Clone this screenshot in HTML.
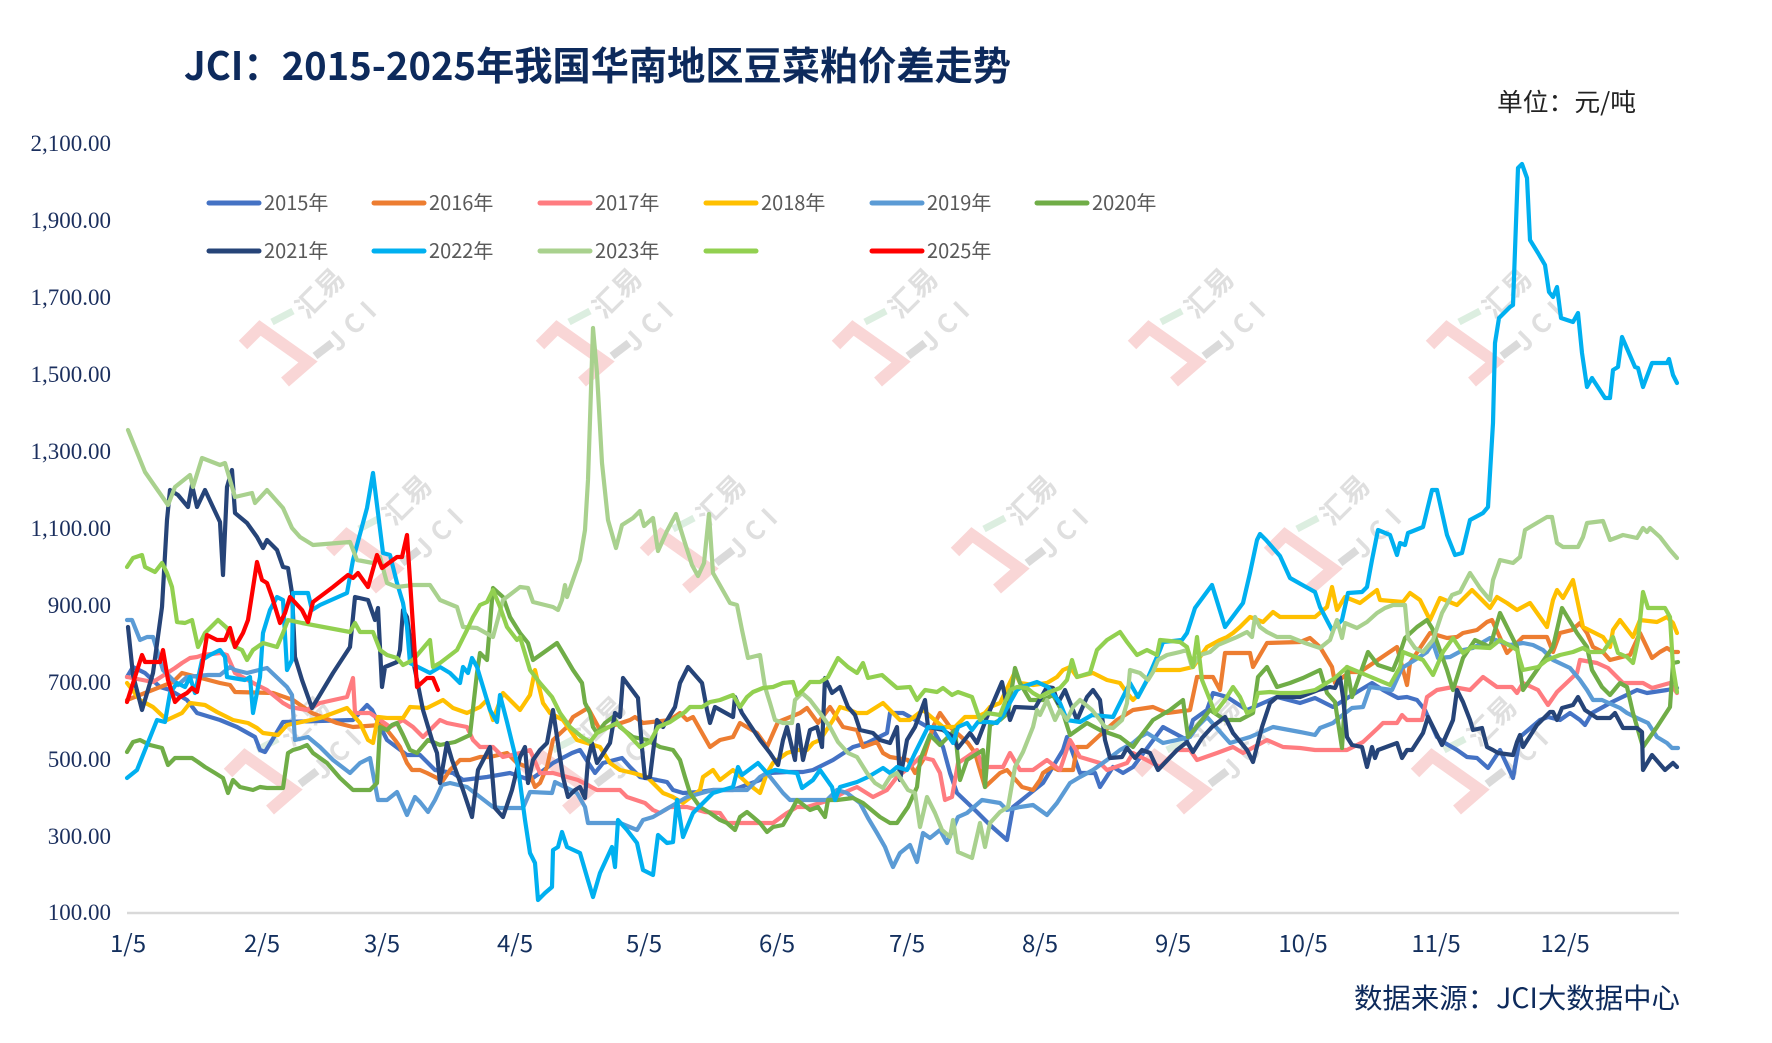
<!DOCTYPE html>
<html><head><meta charset="utf-8"><style>
html,body{margin:0;padding:0;background:#fff;}
svg{display:block;}
.yl{font-family:"Liberation Serif","Noto Serif CJK SC",serif;font-size:23px;fill:#1b2f5e;}
.xl{font-family:"Noto Sans CJK SC","Liberation Sans",sans-serif;font-size:24px;fill:#14305e;}
.lg{font-family:"Noto Sans CJK SC","Liberation Sans",sans-serif;font-size:20px;fill:#595959;}
.s{fill:none;stroke-width:4.2;stroke-linejoin:round;stroke-linecap:round;}
.wt{font-family:"Noto Sans CJK SC","Liberation Sans",sans-serif;fill:#dcdcdc;font-weight:bold;}
</style></head><body>
<svg width="1772" height="1043" viewBox="0 0 1772 1043" xmlns="http://www.w3.org/2000/svg">
<rect width="1772" height="1043" fill="#fff"/>
<!-- title -->
<text x="184" y="80" textLength="827" lengthAdjust="spacingAndGlyphs" style="font-family:'Noto Sans CJK SC','Liberation Sans',sans-serif;font-weight:bold;font-size:39px;fill:#0d2a5c;">JCI：2015-2025年我国华南地区豆菜粕价差走势</text>
<text x="1636" y="111" text-anchor="end" textLength="139" lengthAdjust="spacingAndGlyphs" style="font-family:'Noto Sans CJK SC','Liberation Sans',sans-serif;font-size:25px;fill:#222;">单位：元/吨</text>
<text x="1680" y="1008" text-anchor="end" textLength="326" lengthAdjust="spacingAndGlyphs" style="font-family:'Noto Sans CJK SC','Liberation Sans',sans-serif;font-size:28px;fill:#0d2a5c;">数据来源：JCI大数据中心</text>

<!-- watermarks -->
<g opacity="0.9">
<g transform="translate(243,345)"><polyline points="0,0 17,-17 65,17 42,37" fill="none" stroke="#f9d2d2" stroke-width="12"/><line x1="29" y1="-23" x2="50" y2="-34" stroke="#d8ecdd" stroke-width="7"/><line x1="72" y1="11" x2="89" y2="-2" stroke="#d6d6d6" stroke-width="8"/><text class="wt" x="0" y="0" font-size="28" text-anchor="middle" transform="translate(84,-45) rotate(-45)">汇易</text><text class="wt" x="0" y="0" font-size="26" letter-spacing="8" text-anchor="middle" transform="translate(118,-15) rotate(-45)">JCI</text></g>
<g transform="translate(540,345)"><polyline points="0,0 17,-17 65,17 42,37" fill="none" stroke="#f9d2d2" stroke-width="12"/><line x1="29" y1="-23" x2="50" y2="-34" stroke="#d8ecdd" stroke-width="7"/><line x1="72" y1="11" x2="89" y2="-2" stroke="#d6d6d6" stroke-width="8"/><text class="wt" x="0" y="0" font-size="28" text-anchor="middle" transform="translate(84,-45) rotate(-45)">汇易</text><text class="wt" x="0" y="0" font-size="26" letter-spacing="8" text-anchor="middle" transform="translate(118,-15) rotate(-45)">JCI</text></g>
<g transform="translate(836,345)"><polyline points="0,0 17,-17 65,17 42,37" fill="none" stroke="#f9d2d2" stroke-width="12"/><line x1="29" y1="-23" x2="50" y2="-34" stroke="#d8ecdd" stroke-width="7"/><line x1="72" y1="11" x2="89" y2="-2" stroke="#d6d6d6" stroke-width="8"/><text class="wt" x="0" y="0" font-size="28" text-anchor="middle" transform="translate(84,-45) rotate(-45)">汇易</text><text class="wt" x="0" y="0" font-size="26" letter-spacing="8" text-anchor="middle" transform="translate(118,-15) rotate(-45)">JCI</text></g>
<g transform="translate(1132,345)"><polyline points="0,0 17,-17 65,17 42,37" fill="none" stroke="#f9d2d2" stroke-width="12"/><line x1="29" y1="-23" x2="50" y2="-34" stroke="#d8ecdd" stroke-width="7"/><line x1="72" y1="11" x2="89" y2="-2" stroke="#d6d6d6" stroke-width="8"/><text class="wt" x="0" y="0" font-size="28" text-anchor="middle" transform="translate(84,-45) rotate(-45)">汇易</text><text class="wt" x="0" y="0" font-size="26" letter-spacing="8" text-anchor="middle" transform="translate(118,-15) rotate(-45)">JCI</text></g>
<g transform="translate(1430,345)"><polyline points="0,0 17,-17 65,17 42,37" fill="none" stroke="#f9d2d2" stroke-width="12"/><line x1="29" y1="-23" x2="50" y2="-34" stroke="#d8ecdd" stroke-width="7"/><line x1="72" y1="11" x2="89" y2="-2" stroke="#d6d6d6" stroke-width="8"/><text class="wt" x="0" y="0" font-size="28" text-anchor="middle" transform="translate(84,-45) rotate(-45)">汇易</text><text class="wt" x="0" y="0" font-size="26" letter-spacing="8" text-anchor="middle" transform="translate(118,-15) rotate(-45)">JCI</text></g>
<g transform="translate(330,552)"><polyline points="0,0 17,-17 65,17 42,37" fill="none" stroke="#f9d2d2" stroke-width="12"/><line x1="29" y1="-23" x2="50" y2="-34" stroke="#d8ecdd" stroke-width="7"/><line x1="72" y1="11" x2="89" y2="-2" stroke="#d6d6d6" stroke-width="8"/><text class="wt" x="0" y="0" font-size="28" text-anchor="middle" transform="translate(84,-45) rotate(-45)">汇易</text><text class="wt" x="0" y="0" font-size="26" letter-spacing="8" text-anchor="middle" transform="translate(118,-15) rotate(-45)">JCI</text></g>
<g transform="translate(644,552)"><polyline points="0,0 17,-17 65,17 42,37" fill="none" stroke="#f9d2d2" stroke-width="12"/><line x1="29" y1="-23" x2="50" y2="-34" stroke="#d8ecdd" stroke-width="7"/><line x1="72" y1="11" x2="89" y2="-2" stroke="#d6d6d6" stroke-width="8"/><text class="wt" x="0" y="0" font-size="28" text-anchor="middle" transform="translate(84,-45) rotate(-45)">汇易</text><text class="wt" x="0" y="0" font-size="26" letter-spacing="8" text-anchor="middle" transform="translate(118,-15) rotate(-45)">JCI</text></g>
<g transform="translate(955,552)"><polyline points="0,0 17,-17 65,17 42,37" fill="none" stroke="#f9d2d2" stroke-width="12"/><line x1="29" y1="-23" x2="50" y2="-34" stroke="#d8ecdd" stroke-width="7"/><line x1="72" y1="11" x2="89" y2="-2" stroke="#d6d6d6" stroke-width="8"/><text class="wt" x="0" y="0" font-size="28" text-anchor="middle" transform="translate(84,-45) rotate(-45)">汇易</text><text class="wt" x="0" y="0" font-size="26" letter-spacing="8" text-anchor="middle" transform="translate(118,-15) rotate(-45)">JCI</text></g>
<g transform="translate(1268,552)"><polyline points="0,0 17,-17 65,17 42,37" fill="none" stroke="#f9d2d2" stroke-width="12"/><line x1="29" y1="-23" x2="50" y2="-34" stroke="#d8ecdd" stroke-width="7"/><line x1="72" y1="11" x2="89" y2="-2" stroke="#d6d6d6" stroke-width="8"/><text class="wt" x="0" y="0" font-size="28" text-anchor="middle" transform="translate(84,-45) rotate(-45)">汇易</text><text class="wt" x="0" y="0" font-size="26" letter-spacing="8" text-anchor="middle" transform="translate(118,-15) rotate(-45)">JCI</text></g>
<g transform="translate(228,773)"><polyline points="0,0 17,-17 65,17 42,37" fill="none" stroke="#f9d2d2" stroke-width="12"/><line x1="29" y1="-23" x2="50" y2="-34" stroke="#d8ecdd" stroke-width="7"/><line x1="72" y1="11" x2="89" y2="-2" stroke="#d6d6d6" stroke-width="8"/><text class="wt" x="0" y="0" font-size="28" text-anchor="middle" transform="translate(84,-45) rotate(-45)">汇易</text><text class="wt" x="0" y="0" font-size="26" letter-spacing="8" text-anchor="middle" transform="translate(118,-15) rotate(-45)">JCI</text></g>
<g transform="translate(524,773)"><polyline points="0,0 17,-17 65,17 42,37" fill="none" stroke="#f9d2d2" stroke-width="12"/><line x1="29" y1="-23" x2="50" y2="-34" stroke="#d8ecdd" stroke-width="7"/><line x1="72" y1="11" x2="89" y2="-2" stroke="#d6d6d6" stroke-width="8"/><text class="wt" x="0" y="0" font-size="28" text-anchor="middle" transform="translate(84,-45) rotate(-45)">汇易</text><text class="wt" x="0" y="0" font-size="26" letter-spacing="8" text-anchor="middle" transform="translate(118,-15) rotate(-45)">JCI</text></g>
<g transform="translate(1138,773)"><polyline points="0,0 17,-17 65,17 42,37" fill="none" stroke="#f9d2d2" stroke-width="12"/><line x1="29" y1="-23" x2="50" y2="-34" stroke="#d8ecdd" stroke-width="7"/><line x1="72" y1="11" x2="89" y2="-2" stroke="#d6d6d6" stroke-width="8"/><text class="wt" x="0" y="0" font-size="28" text-anchor="middle" transform="translate(84,-45) rotate(-45)">汇易</text><text class="wt" x="0" y="0" font-size="26" letter-spacing="8" text-anchor="middle" transform="translate(118,-15) rotate(-45)">JCI</text></g>
<g transform="translate(1415,773)"><polyline points="0,0 17,-17 65,17 42,37" fill="none" stroke="#f9d2d2" stroke-width="12"/><line x1="29" y1="-23" x2="50" y2="-34" stroke="#d8ecdd" stroke-width="7"/><line x1="72" y1="11" x2="89" y2="-2" stroke="#d6d6d6" stroke-width="8"/><text class="wt" x="0" y="0" font-size="28" text-anchor="middle" transform="translate(84,-45) rotate(-45)">汇易</text><text class="wt" x="0" y="0" font-size="26" letter-spacing="8" text-anchor="middle" transform="translate(118,-15) rotate(-45)">JCI</text></g>
</g>

<!-- y axis labels -->
<g class="yl" text-anchor="end">
<text x="111" y="151">2,100.00</text>
<text x="111" y="228">1,900.00</text>
<text x="111" y="305">1,700.00</text>
<text x="111" y="382">1,500.00</text>
<text x="111" y="459">1,300.00</text>
<text x="111" y="536">1,100.00</text>
<text x="111" y="613">900.00</text>
<text x="111" y="690">700.00</text>
<text x="111" y="767">500.00</text>
<text x="111" y="844">300.00</text>
<text x="111" y="920">100.00</text>
</g>
<!-- axis line -->
<line x1="127" y1="913" x2="1679" y2="913" stroke="#d9d9d9" stroke-width="2.5"/>
<!-- x labels -->
<g class="xl" text-anchor="middle">
<text x="128" y="952">1/5</text>
<text x="262" y="952">2/5</text>
<text x="382" y="952">3/5</text>
<text x="515" y="952">4/5</text>
<text x="644" y="952">5/5</text>
<text x="777" y="952">6/5</text>
<text x="907" y="952">7/5</text>
<text x="1040" y="952">8/5</text>
<text x="1173" y="952">9/5</text>
<text x="1303" y="952">10/5</text>
<text x="1436" y="952">11/5</text>
<text x="1565" y="952">12/5</text>
</g>

<!-- legend -->
<g stroke-width="5" stroke-linecap="round">
<line x1="209" y1="203" x2="259" y2="203" stroke="#4472c4"/>
<line x1="374" y1="203" x2="424" y2="203" stroke="#ed7d31"/>
<line x1="540" y1="203" x2="590" y2="203" stroke="#ff7c80"/>
<line x1="706" y1="203" x2="756" y2="203" stroke="#ffc000"/>
<line x1="872" y1="203" x2="922" y2="203" stroke="#5b9bd5"/>
<line x1="1037" y1="203" x2="1087" y2="203" stroke="#70ad47"/>
<line x1="209" y1="251" x2="259" y2="251" stroke="#264478"/>
<line x1="374" y1="251" x2="424" y2="251" stroke="#00b0f0"/>
<line x1="540" y1="251" x2="590" y2="251" stroke="#a9d18e"/>
<line x1="706" y1="251" x2="756" y2="251" stroke="#92d050"/>
<line x1="872" y1="251" x2="922" y2="251" stroke="#ff0000"/>
</g>
<g class="lg">
<text x="264" y="210">2015年</text>
<text x="429" y="210">2016年</text>
<text x="595" y="210">2017年</text>
<text x="761" y="210">2018年</text>
<text x="927" y="210">2019年</text>
<text x="1092" y="210">2020年</text>
<text x="264" y="258">2021年</text>
<text x="429" y="258">2022年</text>
<text x="595" y="258">2023年</text>
<text x="927" y="258">2025年</text>
</g>

<!-- series -->
<polyline class="s" stroke="#4472c4" points="127,677 133,667 145,673 160,687 170,690 187,700 197,713 220,720 237,727 255,737 260,750 265,752 277,732 283,722 353,720 367,705 372,710 387,740 407,755 420,755 435,770 453,773 463,780 487,777 510,773 530,780 540,773 553,763 572,753 580,750 595,773 603,763 622,758 630,767 640,777 657,780 667,782 673,790 683,793 700,792 713,790 733,790 760,780 770,773 787,772 803,772 813,770 827,763 833,760 853,747 867,743 887,733 890,713 903,713 933,730 943,747 950,773 957,793 977,812 990,825 1007,840 1013,807 1043,783 1063,750 1067,737 1080,773 1095,773 1100,787 1113,767 1123,773 1133,767 1163,727 1187,740 1193,720 1207,710 1213,693 1227,697 1247,710 1277,697 1300,703 1315,698 1333,707 1357,692 1372,683 1383,690 1398,698 1407,697 1417,700 1425,710 1437,737 1445,743 1457,750 1467,757 1477,758 1488,768 1500,750 1513,778 1520,737 1540,720 1548,717 1560,720 1570,713 1580,720 1585,725 1592,713 1603,707 1612,702 1637,690 1647,693 1667,690 1677,688"/>
<polyline class="s" stroke="#ed7d31" points="127,700 173,682 182,673 220,683 230,685 235,692 273,693 293,700 312,713 337,723 353,727 380,725 387,730 395,740 400,747 407,763 412,770 420,770 427,773 437,778 442,782 450,770 460,760 470,760 480,757 490,757 507,753 517,763 527,767 535,787 540,783 547,767 553,740 567,727 573,717 588,708 600,730 630,720 635,717 643,723 670,720 680,713 687,720 693,717 710,747 720,740 733,737 740,723 757,733 767,747 778,722 800,713 807,708 818,723 830,707 843,727 857,730 863,747 877,742 883,753 890,757 908,760 915,773 923,760 933,727 940,713 950,727 968,743 975,753 985,787 1000,773 1007,770 1022,787 1033,790 1040,780 1043,773 1052,767 1058,770 1073,770 1077,747 1087,747 1100,735 1117,720 1133,710 1153,707 1167,713 1190,710 1197,677 1213,677 1220,690 1225,653 1250,653 1253,667 1267,643 1300,642 1310,638 1320,647 1332,667 1335,683 1350,672 1360,672 1397,647 1407,685 1410,663 1430,633 1447,638 1457,637 1463,633 1477,630 1487,622 1492,620 1507,653 1523,637 1547,637 1553,652 1560,633 1572,630 1580,623 1587,633 1593,647 1603,652 1610,660 1630,655 1640,633 1652,658 1660,652 1667,648 1673,652 1678,652"/>
<polyline class="s" stroke="#ff7c80" points="127,677 153,682 175,668 182,663 190,658 197,657 203,655 220,653 227,655 235,673 257,685 267,690 283,703 290,707 307,710 320,703 347,697 353,678 355,713 370,713 383,722 390,727 403,720 413,727 423,737 440,720 447,723 467,727 473,740 480,747 493,747 503,757 520,753 530,750 540,773 553,773 578,780 597,790 620,790 627,797 645,803 653,810 660,813 670,807 687,807 705,812 720,813 727,823 740,823 773,823 787,813 797,807 807,807 830,800 843,793 857,787 873,797 887,790 897,777 910,767 920,757 933,760 940,773 945,800 952,797 958,763 967,757 977,750 982,767 992,767 1003,767 1010,753 1020,770 1033,770 1047,760 1060,770 1070,740 1080,757 1100,763 1107,770 1127,763 1133,753 1160,767 1177,750 1190,750 1197,760 1217,753 1233,747 1243,753 1267,740 1283,747 1300,748 1315,750 1333,750 1347,750 1363,742 1378,728 1383,723 1397,723 1402,715 1407,720 1422,720 1427,697 1437,690 1453,687 1470,690 1483,677 1497,687 1512,687 1517,693 1523,683 1538,690 1548,705 1557,692 1577,673 1580,660 1597,663 1608,668 1623,683 1643,683 1652,688 1670,683 1677,693"/>
<polyline class="s" stroke="#ffc000" points="127,683 140,700 153,707 167,720 182,713 190,703 205,705 217,712 233,720 248,723 257,728 263,733 278,735 287,725 297,723 320,718 347,708 360,723 368,740 373,743 378,717 387,718 403,718 410,707 427,708 443,700 453,708 467,713 480,707 487,700 493,720 503,693 520,710 530,695 535,670 543,703 550,713 563,720 577,740 600,747 610,763 620,770 633,773 647,777 653,783 663,793 673,797 683,803 700,790 703,777 713,770 720,780 733,770 747,783 760,793 767,773 773,763 787,753 797,750 807,750 813,743 820,740 833,720 840,707 850,710 857,713 867,713 883,703 890,710 900,720 910,720 923,710 943,727 955,727 965,717 977,717 985,713 990,707 1000,703 1015,672 1020,683 1033,685 1047,683 1057,677 1063,670 1070,667 1077,677 1093,673 1107,680 1120,683 1127,693 1133,700 1140,693 1153,670 1167,670 1180,670 1193,667 1207,647 1220,640 1227,637 1233,633 1240,627 1250,617 1263,622 1273,612 1280,617 1300,617 1315,617 1327,607 1332,587 1337,610 1345,597 1360,603 1377,590 1380,600 1403,602 1410,593 1420,600 1430,620 1440,598 1457,605 1472,590 1490,608 1497,597 1507,603 1517,610 1530,603 1547,627 1553,600 1557,590 1563,598 1573,580 1583,627 1603,637 1610,647 1613,630 1620,620 1633,637 1640,620 1657,622 1667,617 1673,623 1677,633"/>
<polyline class="s" stroke="#5b9bd5" points="127,620 132,620 140,640 147,637 153,637 163,670 178,685 187,677 208,675 220,675 230,667 235,670 247,673 267,668 287,687 292,695 295,740 308,737 320,747 333,760 350,773 360,763 370,758 378,800 387,800 397,792 407,815 415,797 420,802 428,812 435,800 442,785 450,783 467,787 480,797 493,807 500,808 523,808 530,792 552,793 555,782 577,793 585,807 588,823 603,823 620,823 637,830 643,820 653,817 670,807 687,797 713,790 747,790 760,777 767,773 783,793 790,800 827,800 837,790 847,793 860,803 868,818 877,833 885,847 890,860 893,867 900,853 910,845 917,862 923,833 930,838 940,830 947,843 958,817 967,813 982,800 1000,803 1007,810 1020,807 1033,805 1047,815 1057,803 1070,783 1080,777 1093,770 1107,760 1120,750 1133,743 1140,737 1147,733 1163,743 1177,740 1190,737 1197,727 1207,717 1230,743 1250,737 1273,727 1300,732 1315,735 1320,728 1333,723 1340,717 1352,708 1363,707 1370,687 1392,690 1402,668 1418,658 1427,652 1433,643 1438,658 1450,657 1463,650 1473,648 1490,638 1510,645 1523,643 1533,645 1543,650 1553,660 1570,668 1580,680 1587,690 1593,700 1602,700 1620,708 1627,713 1637,718 1648,723 1657,737 1667,743 1672,748 1678,748"/>
<polyline class="s" stroke="#70ad47" points="127,752 133,742 140,740 150,745 162,748 168,765 175,758 192,758 198,762 205,767 215,773 223,778 228,793 233,780 240,787 253,790 260,787 267,788 283,788 288,753 293,750 300,748 307,745 313,753 327,763 340,778 353,790 370,790 377,783 380,727 387,730 392,725 397,723 403,735 410,750 417,753 428,740 440,745 455,742 470,735 477,673 480,653 487,660 493,588 503,597 510,617 520,633 528,643 533,660 543,653 557,643 563,653 573,670 582,683 585,703 590,713 593,727 597,733 605,723 613,717 620,727 633,737 647,740 660,747 673,750 680,760 685,777 690,793 700,807 710,813 720,820 727,823 735,830 740,817 747,812 753,817 760,823 767,832 773,827 783,825 790,813 797,800 810,810 818,807 825,817 828,800 837,800 853,798 863,803 880,817 890,823 897,823 908,807 917,787 920,760 930,735 940,745 955,730 960,780 967,760 975,755 983,750 985,787 990,725 1000,720 1008,713 1015,668 1020,683 1030,700 1043,700 1053,695 1063,713 1070,735 1087,723 1100,730 1120,737 1133,747 1140,737 1153,720 1170,710 1183,700 1188,737 1202,720 1210,710 1225,720 1240,720 1253,713 1258,677 1267,667 1277,687 1290,683 1303,678 1320,670 1327,693 1335,702 1342,748 1347,667 1352,697 1368,652 1378,665 1393,670 1400,653 1405,638 1417,627 1427,620 1432,628 1447,670 1453,690 1463,658 1475,640 1490,647 1500,613 1517,647 1523,690 1553,647 1562,608 1577,633 1587,647 1592,670 1602,687 1610,695 1620,683 1627,687 1633,713 1643,747 1657,727 1670,707 1673,663 1678,662"/>
<polyline class="s" stroke="#264478" points="128,627 133,675 142,710 153,673 162,607 167,520 170,490 178,495 188,507 192,485 197,507 205,490 212,505 220,522 223,575 227,487 232,470 235,513 247,523 257,537 263,548 267,540 277,550 283,567 288,568 292,593 295,657 302,680 312,708 333,673 350,647 355,597 368,600 375,620 378,608 382,687 385,667 397,662 400,650 403,610 407,617 413,660 423,710 432,740 437,753 440,783 447,743 452,760 463,790 472,817 478,770 490,747 495,808 503,817 512,790 520,757 525,747 528,783 533,760 540,750 547,743 553,710 563,777 568,797 575,790 580,787 585,798 588,760 592,743 597,763 610,743 615,713 620,717 623,678 638,698 642,748 645,778 650,777 657,720 663,727 675,707 680,683 688,667 702,683 707,710 710,723 715,707 733,717 735,697 742,713 760,740 770,753 778,765 783,740 787,727 795,760 798,725 803,760 810,730 817,727 822,747 825,678 832,693 840,687 848,707 855,715 860,730 873,733 880,740 890,743 897,727 900,780 907,740 915,727 925,700 928,727 943,730 953,737 958,748 970,733 977,743 987,717 1002,682 1010,720 1015,707 1035,708 1047,687 1053,688 1058,703 1065,690 1077,720 1087,697 1093,690 1100,700 1105,740 1110,758 1122,757 1127,748 1135,758 1142,750 1150,753 1158,770 1177,750 1187,742 1193,752 1202,738 1212,727 1225,717 1233,733 1247,750 1253,762 1262,727 1270,703 1277,697 1300,697 1318,690 1330,687 1335,688 1340,677 1343,697 1347,737 1352,745 1362,747 1367,767 1372,747 1375,758 1378,750 1397,743 1402,758 1407,750 1412,750 1423,733 1428,717 1433,727 1442,745 1450,727 1453,720 1457,690 1463,702 1470,720 1473,730 1482,728 1487,747 1493,750 1498,753 1513,755 1517,742 1520,735 1523,747 1537,725 1550,712 1553,712 1557,720 1562,708 1573,705 1578,697 1585,710 1597,718 1610,718 1615,713 1623,728 1637,728 1642,732 1643,770 1652,755 1665,770 1673,763 1677,767"/>
<polyline class="s" stroke="#00b0f0" points="127,778 137,770 145,750 157,720 165,722 170,693 177,683 185,687 190,677 195,693 202,660 210,655 220,650 225,657 227,677 245,680 250,677 253,713 260,677 263,633 270,610 277,597 283,600 287,670 292,660 293,593 308,593 312,610 320,605 347,593 353,560 367,508 373,473 378,513 383,553 390,555 397,583 403,603 407,627 410,663 420,668 430,673 440,667 450,673 460,683 463,667 468,673 472,658 477,667 490,710 497,722 500,695 507,722 518,767 525,820 530,853 535,863 538,900 545,893 552,887 553,850 558,847 562,832 567,847 580,853 587,877 593,897 600,873 612,847 615,867 618,820 627,830 637,843 643,870 653,875 658,835 667,843 673,842 677,800 683,837 693,813 703,803 713,793 733,787 738,767 742,775 758,763 767,773 775,770 788,772 797,773 802,788 813,780 820,770 832,787 835,800 840,787 857,782 868,777 883,768 890,773 897,767 907,770 915,753 928,727 943,728 953,743 958,727 967,723 972,730 978,722 988,722 997,723 1003,715 1017,690 1022,687 1037,682 1048,687 1060,703 1067,720 1080,722 1092,715 1113,717 1120,703 1130,683 1138,697 1147,680 1160,650 1163,642 1182,640 1187,633 1195,608 1212,585 1225,627 1243,603 1250,573 1257,540 1260,534 1266,540 1280,556 1290,578 1315,592 1320,607 1332,630 1342,620 1348,593 1362,592 1367,587 1372,560 1378,530 1390,535 1397,555 1400,543 1405,545 1408,533 1423,527 1432,490 1437,490 1447,535 1455,555 1462,553 1470,520 1483,513 1488,507 1493,423 1495,343 1499,318 1510,307 1513,305 1518,168 1522,164 1527,178 1530,240 1538,253 1545,265 1549,292 1553,297 1557,287 1561,318 1573,322 1578,313 1582,353 1587,387 1592,378 1605,398 1610,398 1613,370 1618,367 1622,337 1635,367 1638,368 1643,387 1652,363 1667,363 1669,359 1673,375 1677,383"/>
<polyline class="s" stroke="#a9d18e" points="128,430 145,472 168,505 175,487 190,475 193,487 202,458 220,465 225,463 235,497 252,493 255,503 267,490 283,508 292,528 300,537 313,545 350,542 357,560 373,563 380,557 387,583 397,587 413,585 430,585 440,600 457,607 463,627 477,628 493,637 503,600 520,587 528,588 533,602 553,607 558,610 562,600 565,585 567,597 580,560 585,530 588,480 590,420 593,328 597,373 602,463 608,520 616,548 622,525 633,518 640,511 644,526 653,518 658,551 667,531 676,514 684,540 692,565 698,576 704,563 709,514 713,573 730,603 737,605 742,630 748,658 760,655 765,687 770,703 775,720 783,723 792,723 795,700 802,693 810,700 820,713 830,727 838,742 848,753 857,757 867,773 875,783 883,788 890,777 897,773 908,790 915,793 920,827 927,797 935,813 942,830 950,837 953,820 958,852 972,858 980,823 985,847 990,823 1000,812 1008,807 1015,767 1023,752 1033,727 1037,710 1040,715 1047,700 1055,720 1060,710 1067,720 1073,707 1080,700 1092,710 1100,720 1105,727 1113,728 1122,720 1127,703 1130,670 1140,673 1148,680 1153,672 1158,660 1167,655 1180,652 1187,650 1192,667 1200,655 1210,652 1218,645 1237,637 1247,632 1252,637 1255,617 1260,627 1267,632 1277,637 1290,637 1305,643 1320,648 1330,640 1337,620 1342,638 1345,623 1357,628 1367,622 1377,613 1385,608 1393,605 1405,605 1408,638 1415,648 1423,652 1433,640 1442,613 1452,595 1460,592 1470,573 1480,588 1490,600 1493,580 1500,560 1513,563 1520,557 1525,530 1530,527 1547,517 1552,517 1557,543 1563,547 1578,547 1583,537 1587,523 1603,521 1610,540 1618,537 1623,535 1637,538 1643,528 1647,532 1650,528 1660,537 1670,550 1677,558"/>
<polyline class="s" stroke="#92d050" points="127,567 133,558 142,555 145,567 155,572 162,563 167,573 172,587 177,622 185,623 192,620 198,647 205,633 218,620 227,628 235,647 242,650 247,660 253,650 263,643 277,647 283,633 288,620 302,623 350,632 355,623 360,632 373,632 380,650 387,655 397,658 403,665 413,660 430,640 433,667 440,663 457,650 467,630 473,617 480,605 487,602 493,590 500,607 507,627 517,640 520,637 530,670 540,683 552,697 560,713 570,727 582,737 590,742 597,733 607,728 617,723 627,733 640,747 650,742 658,727 670,722 685,712 690,707 702,707 710,702 720,700 733,695 740,707 747,697 753,692 763,688 773,687 783,683 793,682 797,695 803,690 810,682 820,682 828,677 838,658 848,667 857,673 863,663 868,678 882,675 890,682 897,688 910,687 917,700 925,690 937,692 943,688 952,695 958,692 972,697 980,720 987,713 1000,715 1010,690 1017,687 1027,688 1033,693 1040,697 1047,693 1060,688 1067,680 1072,660 1077,677 1090,673 1097,650 1107,640 1120,632 1127,642 1137,655 1147,650 1157,655 1160,640 1180,642 1187,647 1193,667 1197,637 1202,680 1210,700 1215,713 1225,700 1233,687 1240,697 1247,713 1253,710 1258,693 1270,692 1280,693 1300,693 1315,690 1335,678 1347,667 1390,685 1400,667 1403,652 1423,660 1433,675 1443,652 1453,638 1463,653 1472,647 1490,648 1500,640 1517,650 1523,670 1538,667 1547,660 1560,655 1573,652 1583,648 1590,652 1603,652 1613,637 1618,653 1627,657 1633,663 1638,640 1643,592 1648,608 1665,608 1670,617 1673,667 1677,692"/>
<polyline class="s" stroke="#ff0000" points="127,702 142,655 145,662 160,662 163,650 168,680 175,702 180,697 187,693 192,688 197,692 202,667 207,635 217,640 225,640 230,628 235,647 243,633 248,620 257,562 262,580 267,583 272,597 280,623 285,613 290,597 302,610 308,622 313,602 333,587 348,575 353,578 358,573 368,587 377,555 382,568 397,557 402,557 407,535 417,687 427,678 433,678 438,690"/>
</svg>
</body></html>
